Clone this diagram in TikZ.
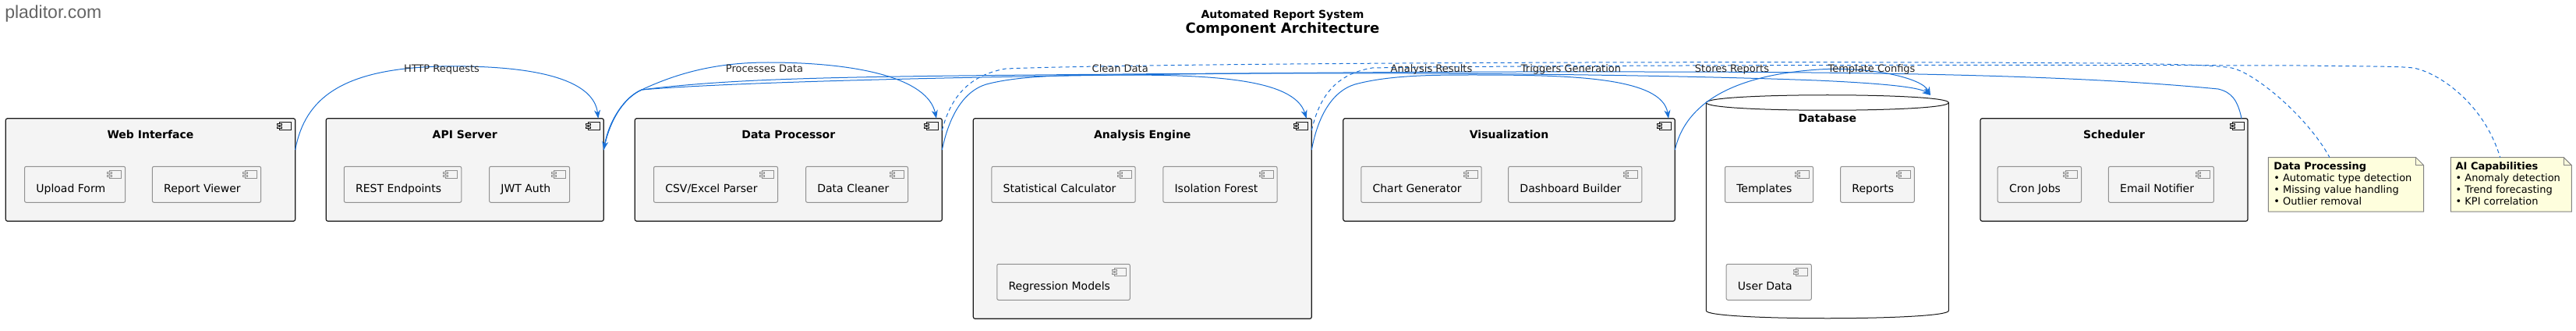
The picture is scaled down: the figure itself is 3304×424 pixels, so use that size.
\documentclass[tikz,border=0pt]{standalone}
\usepackage{fontspec}
\setmainfont{DejaVu Sans}
\newfontfamily\wmfont{Liberation Sans}
\usetikzlibrary{arrows.meta,calc,fit}

\definecolor{boxfill}{RGB}{244,244,244}
\definecolor{boxline}{RGB}{24,24,24}
\definecolor{subline}{RGB}{145,145,145}
\definecolor{flowblue}{RGB}{24,111,214}
\definecolor{notefill}{RGB}{254,254,221}
\definecolor{noteline}{RGB}{130,130,130}
\definecolor{wmgray}{RGB}{100,100,100}

\tikzset{
  comp/.style={draw=boxline, line width=0.9pt, fill=boxfill, rounded corners=1.8pt, inner sep=0pt, outer sep=0pt},
  subcomp/.style={draw=subline, line width=0.75pt, fill=boxfill, rounded corners=1.5pt, inner sep=0pt, outer sep=0pt},
  hole/.style={inner sep=0pt, outer sep=0pt},
  dbline/.style={draw=boxline, line width=0.75pt},
  comptitle/.style={anchor=base, inner sep=0pt, font=\fontsize{10.5pt}{12.6pt}\selectfont\bfseries},
  subtext/.style={anchor=base west, inner sep=0pt, font=\fontsize{10.5pt}{12.6pt}\selectfont},
  flowlabel/.style={anchor=base, inner sep=0pt, text=black!85, font=\fontsize{9.75pt}{11.7pt}\selectfont},
  flow/.style={draw=flowblue, line width=0.75pt, -{Stealth[length=8pt,width=6pt,inset=2.5pt]}},
  notelink/.style={draw=flowblue, line width=0.75pt, dash pattern=on 3.75pt off 3pt},
  noteshape/.style={draw=noteline, line width=0.75pt, fill=notefill},
  notetext/.style={anchor=north west, inner sep=0pt, align=left, font=\fontsize{9.75pt}{11.25pt}\selectfont},
  % pics do not keep yscale=-1, so y runs upwards here
  cicon/.pic={
    \draw[line width=0.75pt, fill=boxfill] (-20,-5) rectangle (-5,-15);
    \draw[line width=0.75pt, fill=boxfill] (-23,-7) rectangle (-17,-9.3);
    \draw[line width=0.75pt, fill=boxfill] (-23,-10.7) rectangle (-17,-13);
  }
}

\begin{document}
\begin{tikzpicture}[x=0.75pt,y=0.75pt,yscale=-1,xscale=1]
\useasboundingbox (0,0) rectangle (3304,424);

% watermark and title
\node[anchor=base west, inner sep=0pt, text=wmgray, font=\wmfont\fontsize{17.25pt}{20pt}\selectfont] (wm) at (6,23.5) {pladitor.com};
\node[comptitle] (ttlA) at (1645,23.5) {Automated Report System};
\node[comptitle, font=\fontsize{13.5pt}{16pt}\selectfont\bfseries] (ttlB) at (1645,42.5) {Component Architecture};

% Web Interface
\node[comp, fit={(7.3,151.7) (378.7,283.3)}] (web) {};
\node[comptitle] (webT) at (web.north |- 0,177) {Web Interface};
\node[subcomp, fit={(31.6,213.3) (160.7,259.3)}] (upload) {};
\node[subtext] (uploadT) at (46.1,246) {Upload Form};
\node[subcomp, fit={(195.4,213.3) (334.7,259.3)}] (viewer) {};
\node[subtext] (viewerT) at (209.9,246) {Report Viewer};

% API Server
\node[comp, fit={(418.2,151.7) (774.3,283.3)}] (api) {};
\node[comptitle] (apiT) at (api.north |- 0,177) {API Server};
\node[subcomp, fit={(441.3,213.3) (591.8,259.3)}] (rest) {};
\node[subtext] (restT) at (455.8,246) {REST Endpoints};
\node[subcomp, fit={(627.6,213.3) (730.6,259.3)}] (jwt) {};
\node[subtext] (jwtT) at (642.1,246) {JWT Auth};

% Data Processor
\node[comp, fit={(814.3,151.7) (1208.3,283.3)}] (dp) {};
\node[comptitle] (dpT) at (dp.north |- 0,177) {Data Processor};
\node[subcomp, fit={(838.5,213.3) (997.5,259.3)}] (parser) {};
\node[subtext] (parserT) at (853,246) {CSV/Excel Parser};
\node[subcomp, fit={(1033.6,213.3) (1164.5,259.3)}] (cleaner) {};
\node[subtext] (cleanerT) at (1048.1,246) {Data Cleaner};

% Analysis Engine
\node[comp, fit={(1248.3,151.7) (1682.3,408.3)}] (ae) {};
\node[comptitle] (aeT) at (ae.north |- 0,177) {Analysis Engine};
\node[subcomp, fit={(1271.9,213.3) (1456.2,259.3)}] (stats) {};
\node[subtext] (statsT) at (1286.4,246) {Statistical Calculator};
\node[subcomp, fit={(1491.8,213.3) (1638.1,259.3)}] (iforest) {};
\node[subtext] (iforestT) at (1506.3,246) {Isolation Forest};
\node[subcomp, fit={(1278.8,338.3) (1449.3,384.3)}] (regress) {};
\node[subtext] (regressT) at (1293.3,371) {Regression Models};

% Visualization
\node[comp, fit={(1722.8,151.7) (2148.3,283.3)}] (viz) {};
\node[comptitle] (vizT) at (viz.north |- 0,177) {Visualization};
\node[subcomp, fit={(1745.8,213.3) (1900.2,259.3)}] (chart) {};
\node[subtext] (chartT) at (1760.3,246) {Chart Generator};
\node[subcomp, fit={(1934.7,213.3) (2105.8,259.3)}] (dash) {};
\node[subtext] (dashT) at (1949.2,246) {Dashboard Builder};

% Database
\node[hole, fit={(2188.3,122) (2499.3,408)}] (db) {};
\draw[dbline, fill=white] (2188.3,131.5) -- (2188.3,398) .. controls (2188.3,411) and (2499.3,411) .. (2499.3,398) -- (2499.3,131.5) .. controls (2499.3,118.5) and (2188.3,118.5) .. (2188.3,131.5) -- cycle;
\draw[dbline] (2188.3,131.5) .. controls (2188.3,144.5) and (2499.3,144.5) .. (2499.3,131.5);
\node[comptitle] (dbT) at (db.north |- 0,156.7) {Database};
\node[subcomp, fit={(2212.5,213.3) (2325.6,259.3)}] (tmpl) {};
\node[subtext] (tmplT) at (2227,246) {Templates};
\node[subcomp, fit={(2360.6,213.3) (2455.3,259.3)}] (reports) {};
\node[subtext] (reportsT) at (2375.1,246) {Reports};
\node[subcomp, fit={(2214.2,338.3) (2323.3,384.3)}] (udata) {};
\node[subtext] (udataT) at (2228.7,371) {User Data};

% Scheduler
\node[comp, fit={(2540,151.7) (2883,283.3)}] (sch) {};
\node[comptitle] (schT) at (sch.north |- 0,177) {Scheduler};
\node[subcomp, fit={(2562.2,213.3) (2669.5,259.3)}] (cron) {};
\node[subtext] (cronT) at (2576.7,246) {Cron Jobs};
\node[subcomp, fit={(2704.4,213.3) (2839.4,259.3)}] (email) {};
\node[subtext] (emailT) at (2718.9,246) {Email Notifier};

% component icons
\foreach \b in {web,api,dp,ae,viz,sch}
  \pic[color=boxline] at (\b.north east) {cicon};
\foreach \b in {upload,viewer,rest,jwt,parser,cleaner,stats,iforest,regress,chart,dash,tmpl,reports,udata,cron,email}
  \pic[color=subline] at (\b.north east) {cicon};

% notes
\node[hole, fit={(2909.3,201.7) (3108.7,271)}] (notedp) {};
\node[hole, fit={(3143.3,201.7) (3298.3,271)}] (noteai) {};
\foreach \n in {notedp,noteai}{
  \draw[noteshape] (\n.north west) -- ($(\n.north east)+(-10,0)$) -- ($(\n.north east)+(0,10)$) -- (\n.south east) -- (\n.south west) -- cycle;
  \draw[noteshape, fill=none] ($(\n.north east)+(-10,0)$) |- ($(\n.north east)+(0,10)$);
}
\node[notetext] (notedpT) at ($(notedp.north west)+(6.7,0)$) {\rule{0pt}{12pt}\textbf{Data Processing}\\• Automatic type detection\\• Missing value handling\\• Outlier removal};
\node[notetext] (noteaiT) at ($(noteai.north west)+(6,0)$) {\rule{0pt}{12pt}\textbf{AI Capabilities}\\• Anomaly detection\\• Trend forecasting\\• KPI correlation};

% connectors
\coordinate (apiJ) at (823,115);
\coordinate (dbtip) at ($(db.north east)+(-23.3,0)$);

\draw[flow] ($(web.north east)+(0,40.3)$) .. controls (391,125) and (440,88) .. (566,85) .. controls (700,83) and (762,106) .. ($(api.north east)+(-7,0)$);
\draw[flow] ($(api.north east)+(0,40.3)$) .. controls (781,155) and (800,125) .. (apiJ) .. controls (870,93) and (920,80) .. (985,80) .. controls (1100,80) and (1190,100) .. ($(dp.north east)+(-7.3,0)$);
\draw[flow] ($(dp.north east)+(0,40.3)$) .. controls (1218,145) and (1238,116) .. (1265,108) .. controls (1310,96) and (1380,96) .. (1435,96) .. controls (1550,96) and (1660,100) .. ($(ae.north east)+(-6.6,0)$);
\draw[flow] ($(ae.north east)+(0,40.3)$) .. controls (1691,145) and (1711,116) .. (1738,108) .. controls (1783,96) and (1840,96) .. (1890,96) .. controls (2010,96) and (2132,98) .. ($(viz.north east)+(-8.3,0)$);
\draw[flow] ($(viz.north east)+(0,40.3)$) .. controls (2160,140) and (2210,97) .. (2333,89) .. controls (2400,85) and (2465,100) .. (dbtip);
\draw[flow] ($(api.north east)+(0,40.3)$) .. controls (781,155) and (800,125) .. (apiJ) .. controls (950,99) and (1100,98) .. (1440,95) .. controls (1900,91) and (2200,98) .. (2330,103) .. controls (2420,107) and (2462,112) .. (dbtip);
\draw[flow] ($(sch.north east)+(-8,0)$) .. controls (2870,128) and (2862,118) .. (2845,114) .. controls (2700,100) and (2500,92) .. (2100,92) .. controls (1600,91) and (1000,100) .. (apiJ) .. controls (800,125) and (781,155) .. ($(api.north east)+(0,40.3)$);

\draw[notelink] ($(dp.north east)+(0,15.3)$) .. controls (1218,130) and (1238,97) .. (1290,88) .. controls (1500,80) and (2300,78) .. (2700,81) .. controls (2800,82) and (2845,84) .. (2862,87) .. controls (2892,93) and (2960,150) .. ($(notedp.north west)+(78.7,0)$);
\draw[notelink] ($(ae.north east)+(0,15.3)$) .. controls (1692,125) and (1712,95) .. (1760,87) .. controls (2000,83) and (2600,83) .. (2950,84) .. controls (3040,85) and (3080,85) .. (3095,87) .. controls (3125,92) and (3185,130) .. ($(noteai.north west)+(63.4,0)$);

% connector labels
\node[flowlabel] (lblHttp) at (566.5,93) {HTTP Requests};
\node[flowlabel] (lblProc) at (980.5,93) {Processes Data};
\node[flowlabel] (lblClean) at (1436.7,93) {Clean Data};
\node[flowlabel] (lblRes) at (1836,93) {Analysis Results};
\node[flowlabel] (lblTrig) at (2015,93) {Triggers Generation};
\node[flowlabel] (lblStore) at (2221.5,93) {Stores Reports};
\node[flowlabel] (lblTmpl) at (2400.5,93) {Template Configs};

\end{tikzpicture}
\end{document}
